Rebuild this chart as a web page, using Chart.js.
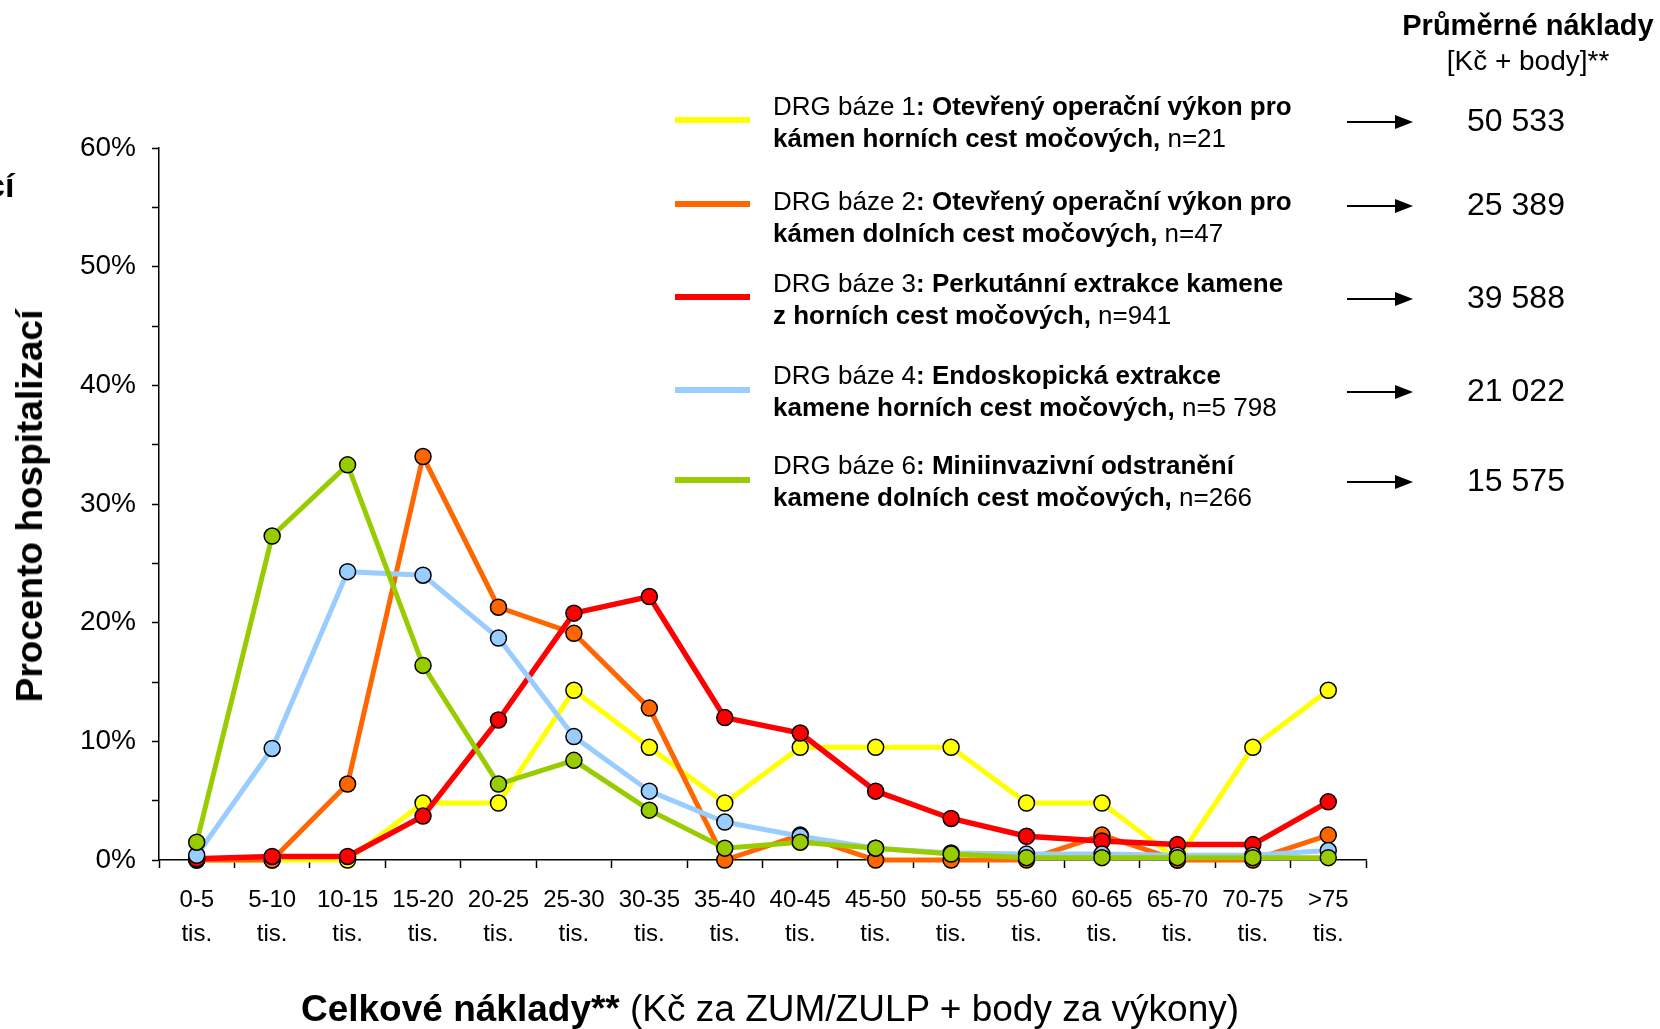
<!DOCTYPE html>
<html>
<head>
<meta charset="utf-8">
<script src="https://cdn.jsdelivr.net/npm/chart.js@4/dist/chart.umd.min.js"></script>
<style>
body { margin: 0; background: #fff; }
#wrap { position: relative; width: 1660px; height: 1029px; overflow: hidden; font-family: "Liberation Sans", Arial, sans-serif; color: #000; }
#canvas { position: absolute; left: 0; top: 0; }
.txt { position: absolute; white-space: nowrap; }
.legLine { position: absolute; left: 675px; width: 75px; height: 6px; }
.legText { position: absolute; left: 773px; font-size: 26px; line-height: 32px; white-space: nowrap; }
.arrow { position: absolute; left: 1347px; width: 50px; height: 2px; background: #000; }
.arrow:after { content: ""; position: absolute; left: 48px; top: -6px; border-left: 18px solid #000; border-top: 7px solid transparent; border-bottom: 7px solid transparent; }
.cost { position: absolute; left: 1416px; width: 200px; text-align: center; font-size: 32px; line-height: 36px; }
</style>
</head>
<body>
<div id="wrap">
<canvas id="canvas" width="1660" height="1029"></canvas>
</div>
<script>
//data
var categories = ["0-5","5-10","10-15","15-20","20-25","25-30","30-35","35-40","40-45","45-50","50-55","55-60","60-65","65-70","70-75",">75"];
var yTicks = [0, 10, 20, 30, 40, 50, 60];

var drg1 = [0, 0, 0, 4.8, 4.8, 14.3, 9.5, 4.8, 9.5, 9.5, 9.5, 4.8, 4.8, 0, 9.5, 14.3];
var drg2 = [0, 0, 6.4, 34.0, 21.3, 19.1, 12.8, 0, 2.1, 0, 0, 0, 2.1, 0, 0, 2.1];
var drg3 = [0.1, 0.3, 0.3, 3.7, 11.8, 20.8, 22.2, 12.0, 10.7, 5.8, 3.5, 2.0, 1.6, 1.3, 1.3, 4.9];
var drg4 = [0.4, 9.4, 24.3, 24.0, 18.7, 10.4, 5.8, 3.2, 2.0, 1.0, 0.6, 0.5, 0.5, 0.4, 0.4, 0.8];
var drg6 = [1.5, 27.3, 33.3, 16.4, 6.4, 8.4, 4.2, 1.0, 1.5, 1.0, 0.5, 0.2, 0.2, 0.2, 0.2, 0.2];

var seriesColors = ["#FFFF00", "#FF6600", "#FF0000", "#99CCFF", "#99CC00"];
var seriesData = [drg1, drg2, drg3, drg4, drg6];

var legendNormal = ["DRG báze 1", "DRG báze 2", "DRG báze 3", "DRG báze 4", "DRG báze 6"];
var legendBold1 = [": Otevřený operační výkon pro", ": Otevřený operační výkon pro", ": Perkutánní extrakce kamene", ": Endoskopická extrakce", ": Miniinvazivní odstranění"];
var legendBold2 = ["kámen horních cest močových,", "kámen dolních cest močových,", "z horních cest močových,", "kamene horních cest močových,", "kamene dolních cest močových,"];
var legendN = ["n=21", "n=47", "n=941", "n=5 798", "n=266"];
var avgCosts = ["50 533", "25 389", "39 588", "21 022", "15 575"];

//layout of the side texts
var legendLineY = [120, 204, 297, 390, 480];
var legendTextY = [90, 185, 267, 359, 449];

var wrap = document.getElementById('wrap');

function addText(html, css) {
    var d = document.createElement('div');
    d.className = 'txt';
    d.innerHTML = html;
    d.style.cssText = css;
    wrap.appendChild(d);
    return d;
}

//legend + cost column
for (var i = 0; i < seriesData.length; i++) {
    var ln = document.createElement('div');
    ln.className = 'legLine';
    ln.style.top = (legendLineY[i] - 3) + 'px';
    ln.style.background = seriesColors[i];
    wrap.appendChild(ln);

    var t = document.createElement('div');
    t.className = 'legText';
    t.style.top = legendTextY[i] + 'px';
    t.innerHTML = legendNormal[i] + '<b>' + legendBold1[i] + '</b><br><b>' + legendBold2[i] + '</b> ' + legendN[i];
    wrap.appendChild(t);

    var a = document.createElement('div');
    a.className = 'arrow';
    a.style.top = (legendLineY[i] + 1) + 'px';
    wrap.appendChild(a);

    var c = document.createElement('div');
    c.className = 'cost';
    c.style.top = (legendLineY[i] - 18) + 'px';
    c.textContent = avgCosts[i];
    wrap.appendChild(c);
}

addText('<b>Průměrné náklady</b>', 'left:1528px; top:25px; font-size:29px; transform: translate(-50%,-50%);');
addText('[Kč + body]**', 'left:1528px; top:61px; font-size:28px; transform: translate(-50%,-50%);');

//axis titles
addText('<b>Celkové náklady**</b> (Kč za ZUM/ZULP + body za výkony)', 'left:770px; top:1009px; font-size:37px; transform: translate(-50%,-50%);');
addText('<b>Procento hospitalizací</b>', 'left:30px; top:506px; font-size:37px; transform: translate(-50%,-50%) rotate(-90deg);');
addText('<b>cí</b>', 'left:-14px; top:166px; font-size:34px;');

//chart
var datasets = [];
for (var j = 0; j < seriesData.length; j++) {
    datasets.push({
        label: legendNormal[j],
        data: seriesData[j],
        borderColor: seriesColors[j],
        backgroundColor: seriesColors[j],
        borderWidth: j == 2 ? 5.5 : 5,
        pointRadius: 8,
        pointBorderWidth: 1.5,
        pointBorderColor: '#000',
        pointBackgroundColor: seriesColors[j],
        tension: 0,
        clip: false,
        order: seriesData.length - j
    });
}

var config = {
    type: 'line',
    data: {
        labels: categories.map(function (c) { return [c, 'tis.']; }),
        datasets: datasets
    },
    options: {
        responsive: false,
        animation: false,
        layout: { padding: { left: 0, top: 148, right: 294, bottom: 0 } },
        plugins: { legend: { display: false }, tooltip: { enabled: false } },
        scales: {
            x: {
                offset: true,
                grid: { offset: true, drawOnChartArea: false, tickLength: 8, tickColor: '#000', tickWidth: 1.5 },
                border: { color: '#000', width: 1.5 },
                ticks: { color: '#000', maxRotation: 0, autoSkip: false, padding: 15,
                    font: { family: 'Liberation Sans', size: 24, lineHeight: 1.42 } },
                afterFit: function (scale) { scale.height = 1029 - 860; }
            },
            y: {
                min: 0,
                max: 60,
                grid: { drawOnChartArea: false, tickLength: 7, tickColor: '#000', tickWidth: 1.5 },
                border: { color: '#000', width: 1.5 },
                ticks: {
                    stepSize: 5,
                    color: '#000',
                    padding: 16,
                    font: { family: 'Liberation Sans', size: 28 },
                    callback: function (v) { return yTicks.indexOf(v) >= 0 ? v + '%' : ''; }
                },
                afterFit: function (scale) { scale.width = 159; }
            }
        }
    }
};

window.onload = function () {
    var ctx = document.getElementById('canvas').getContext('2d');
    window.myLine = new Chart(ctx, config);
};
</script>
</body>
</html>
